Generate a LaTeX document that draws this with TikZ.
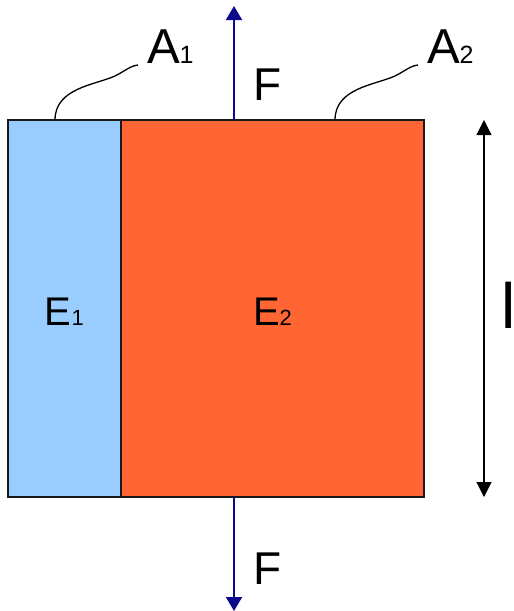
\documentclass[tikz,border=0pt]{standalone}
\usepackage{fontspec}
\setmainfont{Liberation Sans}
\usetikzlibrary{arrows.meta}
\definecolor{lblue}{HTML}{99CCFF}
\definecolor{orng}{HTML}{FF6633}
\definecolor{forcecol}{HTML}{0A0A8A}
\tikzset{
  block/.style={draw=black!90, line width=1.3pt, inner sep=0pt, outer sep=0pt},
  force/.style={draw=forcecol, line width=1.8pt, -{Triangle[width=16pt,length=14pt]}},
  dimline/.style={draw=black, line width=1.2pt, {Triangle[width=15pt,length=15pt]}-{Triangle[width=15pt,length=15pt]}},
  leader/.style={draw=black, line width=1.3pt},
  lbl/.style={anchor=base west, inner sep=0pt, outer sep=0pt, text=black},
}
\newcommand{\bigA}[1]{\fontsize{49}{49}\selectfont A{\fontsize{25}{25}\selectfont #1}}
\newcommand{\bigE}[1]{\fontsize{40}{40}\selectfont E{\fontsize{22}{22}\selectfont #1}}
\begin{document}
\begin{tikzpicture}[x=1pt,y=-1pt]
\useasboundingbox (0,0) rectangle (514,611);
\clip (0,0) rectangle (514,611);
% blocks
\node[block, fill=lblue, minimum width=113pt, minimum height=377pt] (b1) at (64.5,308.5) {};
\node[block, fill=orng, minimum width=303pt, minimum height=377pt] (b2) at (272.5,308.5) {};
% forces
\coordinate (ftop) at (234,120);
\coordinate (ftopend) at (234,6);
\coordinate (fbot) at (234,497);
\coordinate (fbotend) at (234,611);
\draw[force] (ftop) -- (ftopend);
\draw[force] (fbot) -- (fbotend);
% dimension
\coordinate (dtop) at (484,120);
\coordinate (dbot) at (484,497);
\draw[dimline] (dtop) -- (dbot);
% leaders
\coordinate (a1s) at (55,120);
\coordinate (a1m) at (115,76);
\coordinate (a1e) at (138,65);
\draw[leader] (a1s) .. controls (55,88) and (95,85) .. (a1m) .. controls (125,71) and (130,66) .. (a1e);
\coordinate (a2s) at (335,120);
\coordinate (a2m) at (395,76);
\coordinate (a2e) at (418,65);
\draw[leader] (a2s) .. controls (335,88) and (375,85) .. (a2m) .. controls (405,71) and (410,66) .. (a2e);
% labels
\node[lbl] (A1) at (147,63) {\bigA{1}};
\node[lbl] (A2) at (427,63) {\bigA{2}};
\node[lbl] (Ftop) at (253.5,100) {\fontsize{46}{46}\selectfont F};
\node[lbl] (Fbot) at (253.5,584) {\fontsize{46}{46}\selectfont F};
\node[lbl] (E1) at (45,325) {\bigE{1}};
\node[lbl] (E2) at (253,325) {\bigE{2}};
\node[lbl] (L) at (501,328) {\fontsize{64}{64}\selectfont l};
\end{tikzpicture}
\end{document}
